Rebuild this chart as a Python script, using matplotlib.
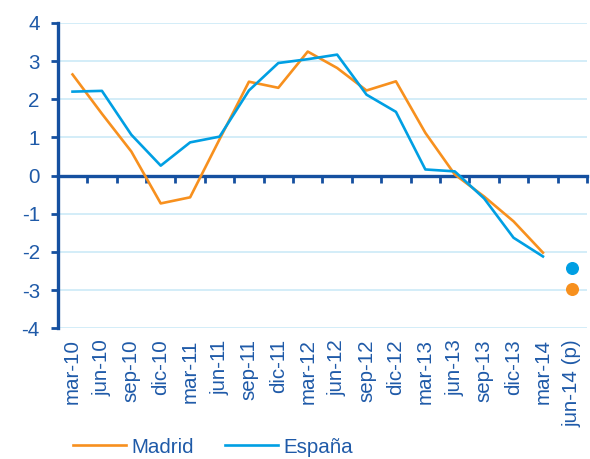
import matplotlib as mpl
mpl.use('Agg')
import matplotlib.pyplot as plt
import numpy as np

plt.rcParams['font.family'] = ['Liberation Sans', 'DejaVu Sans']

# datos
periodos = ['mar-10', 'jun-10', 'sep-10', 'dic-10', 'mar-11', 'jun-11', 'sep-11',
            'dic-11', 'mar-12', 'jun-12', 'sep-12', 'dic-12', 'mar-13', 'jun-13',
            'sep-13', 'dic-13', 'mar-14', 'jun-14 (p)']
madrid = [2.65, 1.62, 0.63, -0.73, -0.57, 0.95, 2.46, 2.30, 3.25, 2.82, 2.23,
          2.47, 1.12, 0.03, -0.55, -1.20, -2.02]
espana = [2.20, 2.22, 1.07, 0.26, 0.87, 1.02, 2.23, 2.95, 3.05, 3.17, 2.12,
          1.67, 0.16, 0.11, -0.60, -1.63, -2.12]
madrid_prev = -2.98
espana_prev = -2.42

naranja = '#F7901E'
azul = '#009FE3'
eje = '#1550A0'
texto = '#1F5AA8'
rejilla = '#C8E8F6'
fs = 14.8

fig = plt.figure(figsize=(5.9, 4.59), dpi=100)
ax = fig.add_axes([0.098, 0.285, 0.897, 0.665])

x = np.arange(len(madrid))
n = len(periodos)

for v in np.arange(-4, 5):
    ax.axhline(v, color=rejilla, lw=1.1, zorder=0)

ax.plot(x, madrid, color=naranja, lw=1.9, label='Madrid', zorder=3)
ax.plot(x, espana, color=azul, lw=1.9, label='España', zorder=3)
ax.scatter([n - 1], [espana_prev], s=70, color=azul, zorder=4)
ax.scatter([n - 1], [madrid_prev], s=70, color=naranja, zorder=4)

ax.set_xlim(-0.5, n - 0.5)
ax.set_ylim(-4, 4)
ax.set_yticks(np.arange(-4, 5))
ax.set_yticklabels([str(v) for v in range(-4, 5)])

for s in ['top', 'right']:
    ax.spines[s].set_visible(False)
ax.spines['left'].set_color(eje)
ax.spines['left'].set_linewidth(2.4)
ax.spines['bottom'].set_position(('data', 0))
ax.spines['bottom'].set_color(eje)
ax.spines['bottom'].set_linewidth(2.4)
ax.spines['bottom'].set_zorder(2)

ax.set_xticks(np.arange(0.5, n, 1.0))
ax.set_xticklabels([])
ax.tick_params(axis='x', direction='out', length=5, width=2, color=eje)
ax.tick_params(axis='y', direction='out', length=5, width=2, color=eje,
               labelsize=fs, labelcolor=texto, pad=8)

sec = ax.secondary_xaxis(0)
sec.set_xticks(np.arange(n))
sec.set_xticklabels(periodos, rotation=90)
sec.tick_params(length=0, labelsize=fs, labelcolor=texto, pad=8)
sec.spines['bottom'].set_visible(False)

fig.legend(loc='lower left', bbox_to_anchor=(0.092, -0.035), ncol=2, frameon=False,
           handlelength=2.6, columnspacing=1.5, handletextpad=0.25,
           prop={'size': fs}, labelcolor=texto)

fig.savefig('out.png', dpi=100)
